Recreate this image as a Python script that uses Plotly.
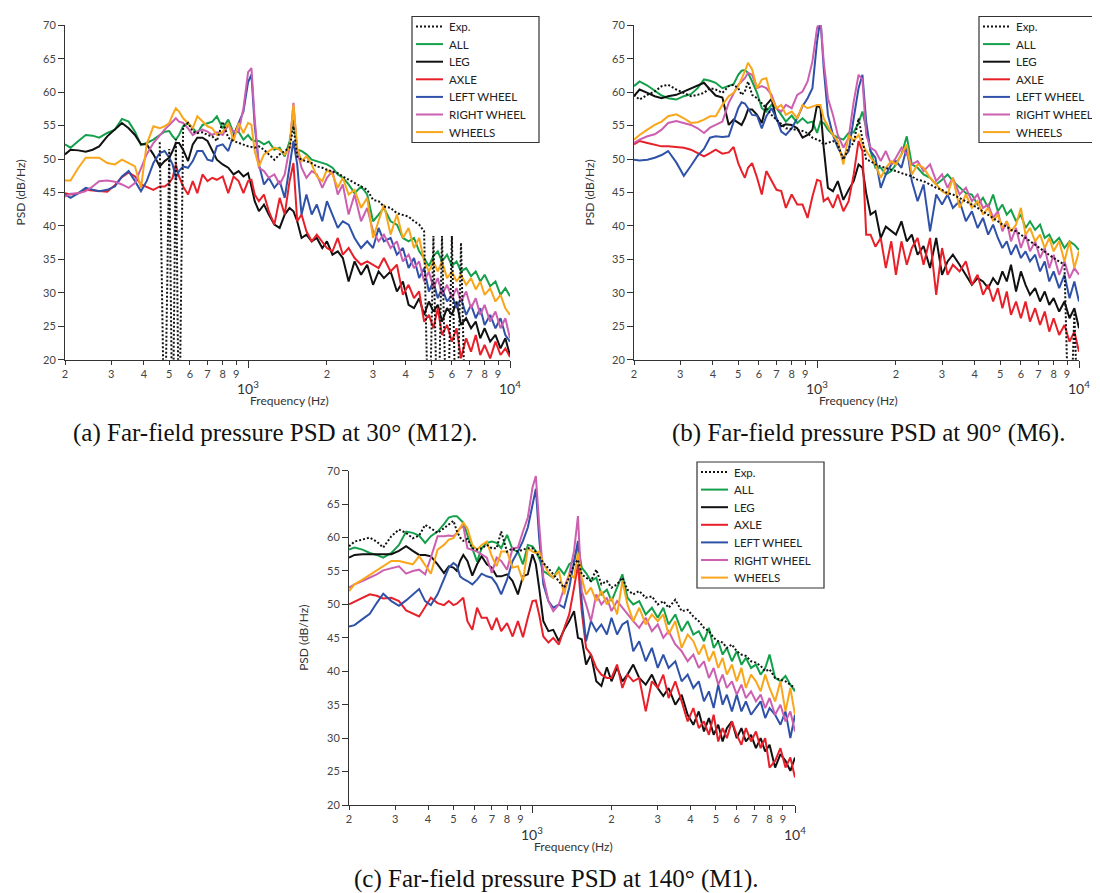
import math
import plotly.graph_objects as go

# frequency grid shared by every curve (Hz)
freq = [200, 210, 225, 240, 255, 270, 290, 310, 330, 350,
        370, 390, 410, 435, 460, 480, 500, 515, 530, 545,
        565, 590, 615, 640, 670, 700, 730, 760, 800, 840,
        880, 920, 960, 1000, 1030, 1060, 1100, 1150, 1200, 1260,
        1320, 1380, 1440, 1490, 1540, 1600, 1670, 1750, 1830, 1920,
        2000, 2100, 2200, 2300, 2420, 2550, 2700, 2850, 3000, 3150,
        3300, 3500, 3700, 3900, 4100, 4300, 4500, 4700, 4900, 5100,
        5300, 5500, 5750, 6000, 6250, 6500, 6800, 7100, 7400, 7700,
        8000, 8400, 8800, 9200, 9600, 10000]

# ---- (a) 30 deg, M12 ----
a_exp = [None, None, None, None, None, None, None, None, None, None,
         None, None, None, None, 52.5, 5, 51.5, 5, 53.0, 5,
         54.9, 55.4, 54.1, 53.9, 54.0, 53.6, 53.4, 52.7, 55.6, 53.2,
         52.7, 52.4, 52.2, 51.9, 51.8, 51.7, 51.9, 51.4, 50.7, 49.9,
         50.7, 51.2, 51.7, 54.9, 50.4, 49.9, 49.7, 49.4, 48.9, 48.7,
         48.4, 48.2, 47.9, 47.4, 46.9, 46.4, 45.9, 45.4, 43.9, 43.7,
         42.9, 42.7, 41.9, 41.7, 41.4, 40.7, 40.2, 39.2, 5, 38.5,
         5, 38.5, 5, 38.5, 5, 37.5, 5, None, None, None,
         None, None, None, None, None, None]
a_all = [52.2, 51.7, 52.7, 53.6, 53.5, 53.2, 53.9, 54.4, 56.0, 55.6,
         54.1, 52.1, 52.4, 52.9, 53.6, 54.1, 54.2, 53.4, 52.9, 53.6,
         54.9, 55.4, 54.6, 53.9, 55.1, 55.4, 55.6, 56.4, 54.6, 55.9,
         53.9, 54.1, 52.9, 53.6, 52.9, 52.7, 52.7, 52.2, 52.6, 51.4,
         51.7, 50.4, 52.6, 55.9, 51.4, 51.2, 50.7, 49.9, 49.7, 49.4,
         49.2, 48.7, 47.7, 47.2, 46.2, 44.9, 45.9, 44.7, 40.7, 41.7,
         42.7, 40.7, 40.2, 38.2, 37.7, 38.2, 36.2, 35.2, 34.0, 35.5,
         36.2, 34.7, 35.7, 34.0, 34.7, 33.2, 33.7, 32.5, 33.2, 31.7,
         32.7, 31.0, 31.7, 29.7, 30.7, 29.5]
a_leg = [50.7, 51.4, 51.3, 51.1, 51.4, 51.9, 53.4, 54.4, 55.4, 54.6,
         53.6, 52.2, 52.2, 50.7, 48.9, 49.7, 50.2, 51.2, 52.4, 52.4,
         51.4, 49.7, 52.2, 53.2, 53.2, 52.7, 51.2, 49.9, 49.2, 48.7,
         47.7, 48.2, 47.4, 47.9, 45.9, 43.7, 42.2, 43.2, 41.7, 40.2,
         39.7, 41.7, 42.7, 42.2, 40.7, 38.2, 38.7, 37.7, 38.2, 36.7,
         37.7, 35.7, 36.2, 35.2, 31.7, 34.7, 32.7, 34.2, 31.2, 33.2,
         32.2, 33.2, 30.2, 31.7, 28.2, 27.7, 29.2, 26.7, 28.7, 27.2,
         28.2, 25.7, 27.7, 26.7, 28.7, 25.2, 26.2, 24.7, 25.7, 23.2,
         24.7, 22.7, 23.7, 21.7, 23.2, 20.6]
a_axle = [44.9, 44.7, 44.9, 45.4, 45.3, 45.2, 45.1, 46.1, 47.3, 48.0,
          47.4, 46.2, 45.8, 45.4, 45.9, 45.9, 46.4, 47.2, 49.2, 47.4,
          45.9, 44.7, 46.7, 44.9, 47.7, 46.7, 47.2, 46.9, 47.4, 44.9,
          47.4, 46.7, 44.9, 46.7, 46.9, 44.7, 43.7, 44.7, 42.2, 40.2,
          44.2, 41.7, 46.7, 49.4, 40.7, 41.7, 39.2, 37.7, 38.7, 37.7,
          36.7, 36.2, 38.2, 35.7, 36.7, 35.2, 34.2, 34.7, 34.2, 33.7,
          35.2, 33.2, 34.2, 29.7, 31.2, 29.2, 30.2, 25.7, 26.7, 24.7,
          27.7, 23.7, 25.2, 22.7, 24.7, 20.2, 23.2, 21.2, 23.7, 20.7,
          22.2, 20.2, 22.7, 20.7, 21.7, 20.4]
a_left = [44.7, 44.2, 44.9, 45.7, 45.4, 45.2, 45.4, 45.9, 47.4, 48.2,
          46.7, 45.2, 46.7, 49.4, 50.9, 51.2, 50.2, 49.2, 47.2, 48.2,
          48.9, 48.7, 49.7, 51.2, 51.2, 49.9, 49.7, 51.9, 52.2, 51.2,
          53.6, 55.4, 57.1, 61.5, 62.6, 55.0, 49.2, 46.2, 47.2, 45.7,
          46.7, 44.2, 48.7, 52.7, 49.2, 41.7, 44.7, 41.7, 43.2, 40.7,
          43.7, 41.7, 39.7, 40.7, 40.2, 38.2, 36.7, 37.7, 36.7, 39.7,
          37.7, 38.2, 35.7, 36.7, 33.7, 35.2, 32.2, 33.7, 30.2, 31.7,
          29.2, 30.7, 28.7, 29.7, 27.7, 29.2, 26.7, 28.2, 26.2, 27.7,
          25.2, 26.7, 24.7, 26.2, 23.7, 22.7]
a_right = [44.4, 44.8, 44.9, 45.2, 45.9, 46.7, 46.8, 46.6, 46.2, 45.7,
           46.4, 48.7, 50.7, 52.4, 53.6, 54.4, 55.1, 55.6, 56.1, 55.6,
           55.4, 54.6, 53.6, 54.1, 54.4, 54.1, 53.6, 54.0, 53.6, 55.1,
           54.1, 54.1, 57.6, 63.0, 63.6, 56.0, 48.7, 48.2, 47.2, 47.7,
           46.2, 47.7, 51.7, 58.4, 51.2, 48.7, 47.2, 48.2, 47.7, 45.7,
           47.2, 48.2, 44.7, 46.2, 41.7, 44.7, 40.7, 42.7, 39.2, 37.7,
           38.7, 36.7, 37.7, 34.7, 35.7, 33.7, 34.7, 31.7, 33.2, 30.7,
           32.2, 29.7, 31.2, 29.2, 30.7, 28.7, 30.2, 27.7, 29.2, 26.7,
           28.2, 25.7, 27.2, 24.7, 26.2, 23.2]
a_wheels = [46.8, 46.8, 48.7, 50.2, 50.2, 50.2, 49.4, 49.2, 49.9, 49.4,
            48.9, 45.7, 52.2, 54.9, 54.6, 54.9, 55.4, 56.6, 57.6, 57.1,
            56.1, 55.4, 54.6, 56.4, 55.6, 54.9, 54.6, 53.6, 54.1, 55.4,
            52.7, 55.4, 53.9, 55.4, 55.1, 51.2, 48.9, 50.7, 51.2, 51.7,
            51.4, 50.7, 51.7, 58.1, 51.7, 49.7, 50.4, 49.2, 47.4, 46.7,
            48.4, 47.7, 45.7, 47.2, 44.7, 45.4, 42.7, 44.2, 38.2, 40.7,
            43.2, 38.7, 41.7, 38.2, 39.7, 36.7, 38.2, 34.7, 33.2, 34.7,
            33.2, 34.7, 32.2, 33.2, 31.7, 32.7, 31.2, 32.2, 30.5, 31.7,
            29.7, 30.7, 28.7, 29.7, 27.7, 26.7]

# ---- (b) 90 deg, M6 ----
b_exp = [59.6, 58.9, 59.6, 60.1, 60.9, 61.1, 60.4, 59.9, 59.4, 59.6,
         59.9, 60.6, 60.4, 59.9, 60.9, 61.1, 60.6, 59.6, 60.1, 61.6,
         59.6, 59.1, 58.4, 57.6, 56.6, 55.9, 55.1, 54.6, 54.5, 54.4,
         54.2, 53.9, 53.2, 52.9, 52.7, 52.2, 52.4, 52.7, 52.2, 49.9,
         51.7, 52.4, 56.1, 53.2, 49.9, 49.7, 49.2, 48.9, 48.7, 48.4,
         48.2, 47.9, 47.7, 47.4, 46.9, 46.7, 46.2, 45.7, 45.4, 44.9,
         44.7, 44.2, 43.7, 43.2, 42.7, 42.2, 41.7, 41.2, 40.7, 40.2,
         39.9, 39.4, 39.2, 38.7, 38.2, 37.7, 37.2, 36.7, 36.2, 35.7,
         35.2, 34.7, 34.2, 5, 27.0, 5]
b_all = [60.9, 61.6, 61.0, 60.2, 59.5, 59.1, 58.9, 59.4, 59.7, 60.6,
         61.9, 61.7, 61.4, 60.6, 60.9, 61.2, 62.6, 63.2, 63.3, 62.9,
         61.6, 59.9, 57.6, 57.1, 58.1, 57.6, 56.6, 55.6, 56.5, 55.4,
         56.1, 55.4, 55.6, 53.9, 55.6, 55.4, 54.4, 53.6, 53.2, 52.9,
         53.9, 54.0, 55.4, 57.1, 54.6, 51.2, 48.7, 48.7, 47.7, 48.2,
         49.2, 50.7, 53.4, 49.2, 48.7, 47.7, 47.2, 46.2, 46.9, 47.7,
         46.7, 45.7, 44.9, 44.7, 43.2, 44.2, 42.7, 44.7, 42.2, 43.2,
         41.7, 42.4, 40.7, 41.7, 39.7, 40.7, 39.4, 40.2, 38.2, 38.7,
         37.4, 38.2, 36.7, 37.7, 37.2, 36.4]
b_leg = [59.4, 60.4, 59.9, 59.4, 59.1, 59.4, 59.6, 60.1, 60.6, 61.1,
         61.4, 60.4, 59.5, 59.2, 55.1, 55.9, 55.4, 55.1, 56.1, 57.4,
         57.4, 56.6, 55.4, 58.1, 59.0, 55.9, 54.9, 55.2, 55.1, 54.6,
         53.2, 53.6, 54.4, 58.1, 57.6, 51.7, 45.7, 45.2, 46.7, 43.9,
         45.4, 46.7, 49.2, 48.7, 44.9, 41.7, 42.2, 38.2, 39.9, 39.2,
         38.7, 40.7, 37.7, 38.7, 35.7, 37.0, 33.7, 38.2, 32.7, 34.7,
         35.7, 34.2, 32.7, 31.2, 32.2, 31.7, 30.7, 32.2, 31.2, 33.2,
         31.7, 34.2, 30.2, 33.2, 31.2, 29.7, 30.7, 28.7, 30.2, 28.2,
         29.2, 27.2, 28.7, 26.2, 27.7, 24.7]
b_axle = [52.2, 52.7, 52.4, 52.1, 51.9, 51.9, 51.8, 51.7, 51.4, 50.9,
          50.4, 50.9, 51.4, 50.8, 51.0, 51.8, 49.4, 48.2, 47.2, 48.7,
          49.4, 47.2, 44.7, 48.2, 46.7, 45.4, 45.2, 42.7, 44.7, 43.2,
          43.2, 41.2, 44.4, 46.9, 46.7, 43.7, 44.2, 42.7, 44.7, 42.2,
          43.7, 47.7, 52.7, 51.2, 38.7, 38.7, 36.9, 38.2, 33.7, 37.7,
          32.7, 37.7, 34.2, 36.7, 38.2, 34.2, 38.2, 29.7, 36.7, 32.7,
          34.2, 33.2, 34.7, 31.2, 32.7, 29.7, 31.2, 28.7, 30.7, 27.7,
          30.2, 26.7, 28.7, 26.2, 28.7, 25.7, 27.7, 25.2, 27.2, 24.2,
          26.2, 23.7, 25.2, 22.7, 24.2, 21.2]
b_left = [49.9, 49.8, 49.9, 50.2, 50.6, 51.2, 49.5, 47.5, 49.0, 50.5,
          51.5, 53.2, 53.4, 53.3, 53.4, 55.4, 57.6, 58.5, 58.3, 57.6,
          56.6, 56.5, 54.6, 56.4, 57.6, 56.1, 54.1, 53.6, 54.6, 56.1,
          57.9, 59.1, 60.6, 67.6, 71.0, 63.6, 56.6, 53.6, 51.7, 50.2,
          51.2, 56.1, 60.6, 62.6, 55.6, 51.2, 50.2, 45.7, 47.7, 49.2,
          49.7, 48.7, 51.7, 46.7, 43.7, 46.2, 39.2, 44.7, 43.2, 44.7,
          42.7, 43.7, 40.7, 42.2, 39.7, 41.2, 38.7, 40.2, 38.2, 36.7,
          37.7, 35.7, 37.2, 35.2, 36.2, 34.7, 35.7, 33.2, 34.7, 31.7,
          33.2, 30.7, 32.7, 29.2, 31.7, 28.7]
b_right = [52.4, 52.9, 53.4, 53.7, 54.4, 55.4, 55.7, 55.4, 55.1, 54.6,
           53.9, 54.7, 55.1, 55.6, 58.4, 59.9, 61.1, 61.6, 62.1, 62.9,
           62.6, 60.6, 60.9, 60.6, 59.6, 57.6, 57.1, 58.1, 57.6, 59.6,
           60.1, 61.6, 64.6, 69.6, 71.0, 64.6, 59.1, 56.6, 53.6, 51.7,
           53.2, 58.6, 62.6, 61.9, 53.6, 51.7, 51.2, 49.7, 51.2, 49.2,
           50.2, 51.7, 50.7, 49.2, 49.7, 48.2, 49.2, 46.7, 47.7, 45.7,
           47.2, 44.7, 45.7, 43.7, 44.7, 42.7, 43.2, 41.2, 42.2, 39.2,
           40.7, 37.7, 39.7, 36.7, 38.7, 36.2, 37.7, 35.2, 36.7, 33.7,
           35.7, 32.7, 34.7, 32.2, 33.7, 32.7]
b_wheels = [52.9, 53.6, 54.4, 55.1, 55.6, 56.4, 56.7, 56.1, 55.4, 55.5,
            55.9, 56.4, 56.4, 58.1, 59.4, 59.9, 60.9, 61.9, 63.1, 64.4,
            63.4, 60.6, 61.9, 62.1, 59.1, 57.6, 58.1, 56.6, 57.1, 56.1,
            58.1, 57.6, 57.9, 58.1, 58.1, 56.1, 54.9, 53.6, 52.7, 49.2,
            53.6, 52.7, 53.6, 52.2, 51.2, 50.2, 49.2, 47.2, 48.7, 49.7,
            49.2, 50.7, 52.2, 47.7, 49.2, 48.7, 47.2, 46.2, 45.2, 44.7,
            47.2, 42.7, 44.7, 42.7, 43.7, 41.7, 42.7, 40.7, 41.7, 39.7,
            40.7, 39.2, 40.2, 42.7, 38.7, 39.7, 37.7, 38.7, 36.7, 38.2,
            36.2, 37.7, 34.7, 37.7, 33.7, 36.2]

# ---- (c) 140 deg, M1 ----
c_exp = [58.7, 59.4, 59.7, 60.0, 59.4, 58.5, 60.2, 61.2, 60.7, 59.9,
         60.3, 61.9, 61.4, 60.7, 61.4, 62.0, 62.5, 61.0, 60.0, 59.5,
         59.8, 58.4, 58.2, 58.4, 58.9, 58.4, 58.4, 60.9, 57.9, 58.4,
         57.9, 58.2, 58.4, 58.4, 57.9, 57.2, 56.2, 55.4, 54.5, 53.5,
         52.5, 54.0, 56.0, 56.7, 54.5, 54.0, 53.5, 55.2, 53.0, 53.5,
         52.5, 53.0, 54.0, 52.2, 51.5, 52.0, 51.0, 51.2, 50.0, 50.5,
         49.5, 50.7, 49.0, 49.2, 48.2, 47.5, 46.5, 46.0, 45.0, 44.5,
         44.3, 43.5, 44.0, 43.0, 42.5, 42.3, 41.5, 41.3, 40.8, 40.0,
         40.3, 39.0, 38.8, 38.5, 38.0, 37.5]
c_all = [58.2, 58.5, 58.2, 57.7, 57.4, 57.0, 57.7, 58.9, 60.9, 60.7,
         60.3, 59.2, 60.2, 60.9, 62.0, 63.0, 63.2, 63.2, 62.7, 62.2,
         60.4, 58.4, 56.4, 58.4, 59.2, 59.4, 59.2, 58.4, 60.4, 58.2,
         57.9, 56.0, 58.9, 58.7, 57.9, 56.9, 55.0, 54.5, 54.0, 55.5,
         54.5, 56.0, 56.5, 58.9, 55.5, 54.7, 53.5, 54.0, 51.5, 52.2,
         50.5, 52.5, 54.5, 51.0, 50.0, 50.5, 48.5, 49.5, 48.0, 49.5,
         47.0, 48.5, 46.0, 47.5, 45.5, 46.0, 44.5, 46.5, 43.5, 44.5,
         42.5, 43.5, 41.5, 43.0, 41.0, 42.0, 40.5, 41.0, 39.5, 40.5,
         42.5, 39.0, 38.5, 39.3, 38.0, 37.0]
c_leg = [57.0, 57.4, 57.5, 57.5, 57.4, 57.4, 57.5, 58.0, 58.7, 58.0,
         57.4, 57.4, 57.2, 56.0, 54.7, 55.7, 55.5, 55.0, 56.5, 57.4,
         56.5, 54.3, 56.0, 57.2, 56.0, 55.5, 54.2, 54.2, 54.5, 53.5,
         51.5, 54.2, 54.5, 57.5, 56.0, 52.5, 47.5, 46.0, 46.2, 44.5,
         46.2, 47.5, 49.0, 45.0, 44.8, 41.0, 42.5, 38.5, 37.8, 40.6,
         38.5, 40.6, 38.5, 39.5, 41.0, 39.0, 38.0, 39.5, 37.5, 36.3,
         37.5, 35.0, 36.5, 33.5, 32.0, 34.0, 31.0, 33.0, 30.5, 32.0,
         29.5, 31.5, 32.5, 30.0, 31.5, 29.5, 30.5, 28.5, 30.0, 28.0,
         29.0, 25.6, 27.6, 26.6, 25.1, 27.1]
c_axle = [50.0, 50.4, 50.9, 51.5, 51.3, 50.9, 51.0, 50.5, 49.1, 48.6,
          48.2, 49.6, 51.0, 50.2, 49.9, 50.5, 49.9, 50.1, 50.5, 51.0,
          47.5, 46.2, 49.5, 48.0, 48.0, 46.2, 48.0, 46.0, 47.2, 45.2,
          47.5, 45.1, 48.0, 50.5, 50.6, 48.5, 45.2, 44.3, 45.0, 44.0,
          46.4, 48.5, 52.5, 56.0, 49.0, 43.5, 42.5, 40.5, 39.5, 39.0,
          39.0, 41.0, 37.5, 39.5, 38.5, 39.0, 34.0, 38.5, 37.5, 39.5,
          36.0, 38.5, 35.5, 32.5, 34.5, 31.5, 32.5, 30.5, 33.5, 29.5,
          31.5, 30.0, 32.5, 30.5, 29.0, 31.5, 29.5, 31.0, 28.5, 30.0,
          25.6, 26.6, 28.5, 25.6, 27.1, 24.1]
c_left = [46.7, 46.9, 47.8, 48.6, 50.2, 51.6, 50.5, 49.8, 50.6, 51.5,
          52.3, 50.5, 49.9, 51.5, 53.8, 55.5, 56.2, 55.8, 54.2, 53.8,
          53.5, 53.0, 53.7, 54.6, 54.2, 54.0, 53.0, 51.5, 53.7, 56.5,
          57.9, 59.5, 61.5, 65.0, 67.3, 60.0, 53.0, 50.5, 49.5, 50.0,
          49.5, 52.5, 56.5, 59.5, 50.5, 44.5, 47.5, 46.0, 47.0, 45.5,
          48.0, 45.5, 47.0, 47.5, 43.0, 44.5, 41.5, 43.5, 40.5, 42.5,
          40.5, 41.5, 38.5, 39.5, 37.5, 38.5, 35.5, 37.0, 34.5, 38.0,
          35.0, 36.5, 34.0, 36.5, 34.0, 35.5, 33.5, 34.5, 35.5, 33.0,
          34.5, 33.5, 32.0, 34.0, 30.0, 33.5]
c_right = [52.5, 53.0, 53.5, 54.0, 54.5, 55.1, 55.4, 55.7, 54.6, 55.0,
           55.2, 54.5, 57.0, 60.2, 60.2, 60.3, 60.2, 60.7, 61.4, 61.7,
           58.4, 58.2, 57.9, 57.5, 57.0, 54.7, 57.0, 56.5, 55.2, 58.4,
           58.5, 60.9, 63.0, 67.5, 69.2, 62.0, 54.0, 50.5, 49.0, 50.0,
           52.5, 54.5, 58.0, 63.2, 52.0, 50.0, 47.5, 51.5, 50.0, 51.0,
           49.0, 50.5, 49.5, 48.5, 47.5, 46.5, 48.0, 46.0, 47.0, 45.0,
           46.0, 44.0, 43.0, 41.5, 42.5, 40.5, 41.5, 39.0, 40.5, 38.0,
           39.5, 37.5, 38.5, 36.5, 38.0, 36.0, 37.0, 35.5, 36.5, 34.5,
           36.0, 33.5, 35.0, 32.5, 34.0, 31.0]
c_wheels = [52.0, 53.0, 53.7, 54.4, 55.0, 55.7, 56.5, 56.5, 56.2, 56.0,
            57.2, 55.8, 54.6, 58.2, 58.9, 59.7, 59.9, 60.7, 61.4, 62.2,
            61.4, 58.9, 58.2, 58.9, 59.4, 57.2, 55.7, 57.9, 57.9, 55.5,
            55.7, 53.5, 58.4, 57.9, 57.7, 57.9, 56.2, 54.7, 54.0, 55.0,
            51.5, 54.5, 54.0, 57.7, 54.0, 51.5, 52.5, 50.5, 52.0, 50.0,
            51.0, 48.5, 53.5, 50.0, 47.5, 49.5, 47.0, 48.5, 47.5, 48.5,
            45.5, 47.5, 43.5, 45.5, 44.5, 42.5, 44.0, 41.5, 43.0, 40.5,
            42.0, 39.5, 41.0, 38.5, 40.5, 37.5, 39.5, 38.5, 37.0, 39.5,
            37.5, 35.5, 38.5, 34.0, 37.5, 33.5]

names = ["Exp.", "ALL", "LEG", "AXLE", "LEFT WHEEL", "RIGHT WHEEL", "WHEELS"]
colors = ["#111111", "#14a04b", "#111111", "#e8202a", "#2f52a8", "#cc5fb0", "#f9a61a"]

x_ticks = [200, 300, 400, 500, 600, 700, 800, 900,
           2000, 3000, 4000, 5000, 6000, 7000, 8000, 9000]
x_labels = ["2", "3", "4", "5", "6", "7", "8", "9",
            "2", "3", "4", "5", "6", "7", "8", "9"]
y_ticks = [20, 25, 30, 35, 40, 45, 50, 55, 60, 65, 70]

captions = ["(a) Far-field pressure PSD at 30° (M12).",
            "(b) Far-field pressure PSD at 90° (M6).",
            "(c) Far-field pressure PSD at 140° (M1)."]

W, H = 1100, 893
SANS = "Lato"
DOT = "2px,2px"

def px_x(v):
    return v / W

def px_y(v):
    return 1 - v / H

# axis box of each panel in pixels: left, right, top, bottom
boxes = [(57, 502, 17.3, 351.7), (626, 1071, 17.3, 351.7), (341, 787, 462.7, 797)]
legend_pos = [(404, 8.5), (971, 8.5), (689, 454)]
caption_pos = [(267, 425), (860, 425), (548, 871)]

panels = [
    [a_exp, a_all, a_leg, a_axle, a_left, a_right, a_wheels],
    [b_exp, b_all, b_leg, b_axle, b_left, b_right, b_wheels],
    [c_exp, c_all, c_leg, c_axle, c_left, c_right, c_wheels],
]

fig = go.Figure()
annotations = []
shapes = []
layout = {}

for p, series in enumerate(panels):
    sfx = "" if p == 0 else str(p + 1)
    # colored curves first, experiment last so the dots stay visible
    for k in [1, 2, 3, 4, 5, 6, 0]:
        fig.add_trace(go.Scatter(
            x=freq, y=series[k], name=names[k], mode="lines",
            line=dict(color=colors[k], width=2, dash=DOT if k == 0 else "solid"),
            xaxis="x" + sfx, yaxis="y" + sfx, showlegend=False,
            connectgaps=False,
        ))

    left, right, top, bottom = boxes[p]
    layout["xaxis" + sfx] = dict(
        type="log", range=[math.log10(200), 4], domain=[px_x(left), px_x(right)],
        anchor="y" + sfx, showline=True, linecolor="#333", linewidth=1,
        ticks="outside", ticklen=4, tickcolor="#333", tickvals=x_ticks, ticktext=x_labels,
        tickfont=dict(family=SANS, size=11, color="#444"), showgrid=False, zeroline=False,
        automargin=False,
        minor=dict(tickmode="array", tickvals=[1000, 10000], ticks="outside",
                   ticklen=7, tickcolor="#333", showgrid=False),
    )
    layout["yaxis" + sfx] = dict(
        range=[20, 70], domain=[px_y(bottom), px_y(top)], anchor="x" + sfx,
        showline=True, linecolor="#333", linewidth=1, ticks="outside", ticklen=6,
        tickcolor="#333", tickvals=y_ticks, tickfont=dict(family=SANS, size=11, color="#444"),
        showgrid=False, zeroline=False, automargin=False,
    )

    # legend box drawn by hand to match the compact row spacing
    lx, ly = legend_pos[p]
    shapes.append(dict(
        type="rect", xref="paper", yref="paper",
        x0=px_x(lx), x1=px_x(lx + 127), y0=px_y(ly), y1=px_y(ly + 126),
        line=dict(color="#333", width=1.2), fillcolor="white", layer="above",
    ))
    for k, name in enumerate(names):
        cy = ly + 10 + 17.6 * k
        shapes.append(dict(
            type="line", xref="paper", yref="paper",
            x0=px_x(lx + 4), x1=px_x(lx + 31), y0=px_y(cy), y1=px_y(cy),
            line=dict(color=colors[k], width=2, dash=DOT if k == 0 else "solid"),
            layer="above",
        ))
        annotations.append(dict(
            x=px_x(lx + 35), y=px_y(cy), xref="paper", yref="paper", text=name,
            showarrow=False, font=dict(family=SANS, size=11.5, color="#222"),
            xanchor="left", yanchor="middle",
        ))

    # decade labels sit lower than the digit labels
    for dec, txt in [(3, "10<sup>3</sup>"), (4, "10<sup>4</sup>")]:
        annotations.append(dict(
            x=dec, y=px_y(bottom + 28), xref="x" + sfx, yref="paper", text=txt,
            showarrow=False, font=dict(family=SANS, size=14, color="#333"),
            xanchor="center", yanchor="middle",
        ))
    annotations.append(dict(
        x=px_x(left + 224), y=px_y(bottom + 41), xref="paper", yref="paper",
        text="Frequency (Hz)", showarrow=False,
        font=dict(family=SANS, size=12, color="#333"), xanchor="center", yanchor="middle",
    ))
    annotations.append(dict(
        x=px_x(left - 45), y=px_y((top + bottom) / 2), xref="paper", yref="paper",
        text="PSD (dB/Hz)", showarrow=False, textangle=-90,
        font=dict(family=SANS, size=12, color="#333"), xanchor="center", yanchor="middle",
    ))
    cx, cy = caption_pos[p]
    annotations.append(dict(
        x=px_x(cx), y=px_y(cy), xref="paper", yref="paper", text=captions[p],
        showarrow=False, font=dict(family="Liberation Serif", size=25, color="#111"),
        xanchor="center", yanchor="middle",
    ))

fig.update_layout(
    template="none", width=W, height=H, margin=dict(l=0, r=0, t=0, b=0),
    paper_bgcolor="white", plot_bgcolor="white", showlegend=False,
    annotations=annotations, shapes=shapes, **layout,
)

fig.write_html("out.html")
